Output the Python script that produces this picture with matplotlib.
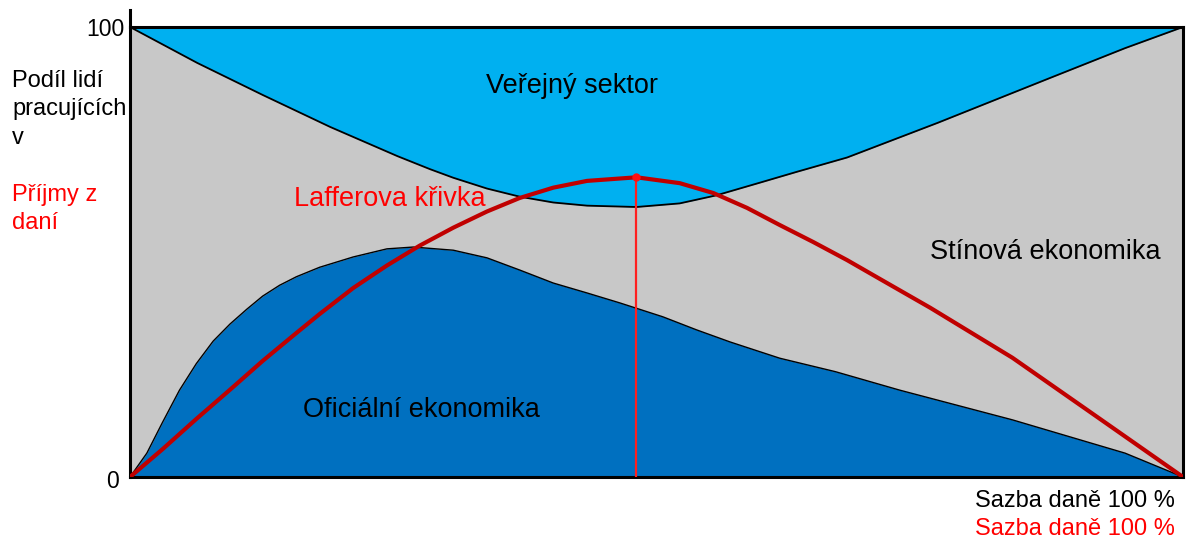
import numpy as np
import matplotlib.pyplot as plt

# Boundary of the public sector area (top band), x = tax rate, y = share
public_x = [0, 6.4, 12.6, 19, 25.4, 28.5, 30.7, 33.9, 37, 40.2, 43.4, 48.1, 52.2, 55.7, 60.1, 63.3,
            68.1, 76.7, 87.4, 94.5, 100]
public_y = [100, 92, 84.9, 77.8, 71.3, 68.4, 66.5, 64.1, 62.3, 61.0, 60.3, 60, 60.8, 62.6, 65.6, 67.8,
            71, 78.7, 88.7, 95.3, 100]

# Top of the official economy area (bottom band)
official_x = [0, 1.6, 3.1, 4.7, 6.3, 7.9, 9.5, 11.1, 12.6, 14.2, 15.8, 18, 21.2, 24.4, 26.9, 30.7,
              33.9, 37, 40.2, 43.4, 46.5, 50.6, 53.8, 57, 61.7, 67, 73.1, 83.8, 94.5, 100]
official_y = [0, 5.3, 12.2, 19.3, 25.2, 30.2, 34, 37.3, 40.2, 42.6, 44.5, 46.6, 48.9, 50.7, 51.1, 50.4,
              48.7, 46, 43.1, 40.9, 38.7, 35.6, 32.7, 30, 26.4, 23.4, 19.3, 12.7, 5.3, 0]

# Laffer curve
laffer_x = [0, 3.1, 6.3, 9.5, 12.6, 15.8, 18, 21.2, 24.4, 27.5, 30.7, 33.9, 37, 40.2, 43.4, 48.1,
            52.2, 55.4, 58.6, 61.7, 64.9, 68.1, 71.3, 76, 83.8, 90.9, 100]
laffer_y = [0, 6.2, 12.9, 19.4, 25.8, 32, 36.2, 42.0, 47.0, 51.4, 55.4, 59.0, 62.0, 64.3, 65.8, 66.6,
            65.3, 63.1, 59.8, 56, 52.2, 48.2, 43.9, 37.6, 26.5, 14.9, 0]
peak_x, peak_y = 48.1, 66.6

LIGHT_BLUE = '#00B0F0'
DARK_BLUE = '#0070C0'
GRAY = '#C8C8C8'
DARK_RED = '#C00000'

plt.rcParams['font.family'] = ['Liberation Sans', 'DejaVu Sans']

W, H = 1187, 539
fig = plt.figure(figsize=(W / 100, H / 100), dpi=100)
ax = fig.add_axes([130 / W, 1 - 477 / H, 1053 / W, 450 / H])
ax.set_xlim(0, 100)
ax.set_ylim(0, 100)
ax.set_facecolor(GRAY)

# Areas
ax.fill_between(public_x, public_y, 100, color=LIGHT_BLUE, lw=0, zorder=1)
ax.fill_between(official_x, 0, official_y, color=DARK_BLUE, lw=0, zorder=1)
ax.plot(public_x, public_y, color='black', lw=1.3, zorder=2, solid_joinstyle='round')
ax.plot(official_x, official_y, color='black', lw=1.0, zorder=2, solid_joinstyle='round')

# Laffer curve and its maximum
ax.plot([peak_x, peak_x], [0, peak_y], color='#FF2020', lw=1.6, zorder=3)
ax.plot(laffer_x, laffer_y, color=DARK_RED, lw=3.0, zorder=4, solid_capstyle='butt',
        solid_joinstyle='round')
ax.plot([peak_x], [peak_y], 'o', color='#FF1010', ms=5, zorder=5)

# Frame
for s in ax.spines.values():
    s.set_linewidth(2.2)
    s.set_color('black')
ax.plot([0, 0], [100, 103.8], color='black', lw=2.2, clip_on=False, zorder=6)
ax.set_xticks([])
ax.set_yticks([])

# Labels inside the chart
ax.text(42.0, 86.8, 'Veřejný sektor', fontsize=19.5, ha='center', va='center')
ax.text(24.7, 61.8, 'Lafferova křivka', fontsize=19.5, ha='center', va='center', color='#FF0000')
ax.text(86.9, 50, 'Stínová ekonomika', fontsize=19.5, ha='center', va='center')
ax.text(27.7, 14.9, 'Oficiální ekonomika', fontsize=19.5, ha='center', va='center')

# Axis texts
fig.text(125 / W, 1 - 30 / H, '100', fontsize=16.5, ha='right', va='center')
fig.text(119 / W, 1 - 481 / H, '0', fontsize=16.5, ha='right', va='center')
fig.text(12 / W, 1 - 70 / H, 'Podíl lidí\npracujících\nv', fontsize=17, ha='left', va='top',
         linespacing=1.38)
fig.text(12 / W, 1 - 184 / H, 'Příjmy z\ndaní', fontsize=17, ha='left', va='top',
         linespacing=1.38, color='#FF0000')
fig.text(1175 / W, 1 - 501 / H, 'Sazba daně 100 %', fontsize=17, ha='right', va='center')
fig.text(1175 / W, 1 - 529 / H, 'Sazba daně 100 %', fontsize=17, ha='right', va='center',
         color='#FF0000')

fig.savefig('out.png', dpi=100, facecolor='white')
